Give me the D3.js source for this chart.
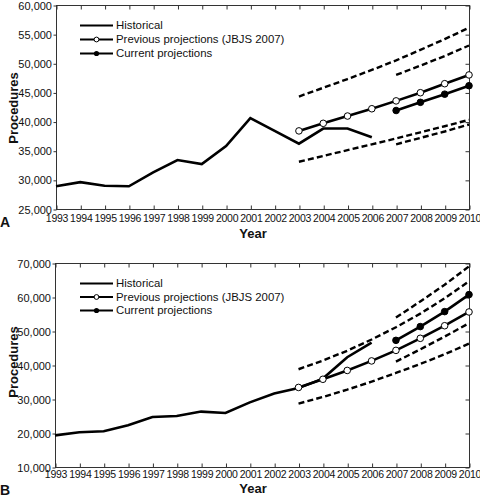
<!DOCTYPE html>
<html><head><meta charset="utf-8">
<script src="https://cdn.jsdelivr.net/npm/d3@7/dist/d3.min.js"></script>
<style>
body{margin:0;background:#fff}
svg{display:block}
text{font-family:"Liberation Sans",Arial,Helvetica,sans-serif;fill:#111}
</style>
</head><body>
<svg id="chart" width="480" height="497"></svg>
<script>
// ---------- data ----------
const years = [1993,1994,1995,1996,1997,1998,1999,2000,2001,2002,2003,2004,2005,2006,2007,2008,2009,2010];
const histYears = [1993,1994,1995,1996,1997,1998,1999,2000,2001,2002,2003,2004,2005,2006];
const prevYears = [2003,2004,2005,2006,2007,2008,2009,2010];
const currYears = [2007,2008,2009,2010];
const legendLabels = ["Historical", "Previous projections (JBJS 2007)", "Current projections"];

// Panel A
const histA = [28900,29600,29000,28900,31300,33400,32700,35800,40600,38400,36200,38800,38800,37300];
const prevA = [38400,39700,40950,42200,43550,44950,46500,48000];
const currA = [41900,43300,44700,46150];
const prevUpperA = [44300,45800,47300,48850,50500,52300,54150,56100];
const prevLowerA = [33100,34100,35100,36100,37100,38150,39200,40300];
const currUpperA = [48000,49600,51250,53050];
const currLowerA = [36100,37200,38300,39500];
const yTicksA = [25000,30000,35000,40000,45000,50000,55000,60000];

// Panel B
const histB = [19300,20200,20500,22300,24700,25000,26300,25900,29000,31600,33200,36000,42300,46600];
const prevB = [33400,35800,38400,41200,44300,47850,51550,55600];
const currB = [47250,51300,55700,60700];
const prevUpperB = [38750,41300,44200,47500,51100,55100,59600,64600];
const prevLowerB = [28650,30600,32750,35100,37650,40300,43150,46300];
const currUpperB = [53950,58700,63600,69000];
const currLowerB = [41000,44600,48350,52300];
const yTicksB = [10000,20000,30000,40000,50000,60000,70000];

// ---------- drawing ----------
const svg = d3.select("#chart");
const fmt = d3.format(",");
const zip = (xs, ys) => xs.map((x, i) => ({x, y: ys[i]}));

function panel(cfg) {
  const x = d3.scaleLinear().domain([1993, 2010]).range([cfg.left, cfg.right]);
  const y = d3.scaleLinear().domain(cfg.yDomain).range([cfg.bottom, cfg.top]);
  const g = svg.append("g");

  // frame
  g.append("rect")
    .attr("x", cfg.left + 0.5).attr("y", cfg.top + 0.5)
    .attr("width", cfg.right - cfg.left).attr("height", cfg.bottom - cfg.top)
    .attr("fill", "none").attr("stroke", "#333").attr("stroke-width", 1);

  // axes
  const xb = g.append("g").attr("transform", `translate(0.5,${cfg.bottom + 0.5})`)
    .call(d3.axisBottom(x).tickValues(years).tickFormat(d3.format("d")).tickSize(-4).tickPadding(cfg.xPad));
  const xt = g.append("g").attr("transform", `translate(0.5,${cfg.top + 0.5})`)
    .call(d3.axisTop(x).tickValues(years).tickFormat("").tickSize(-4));
  const yl = g.append("g").attr("transform", `translate(${cfg.left + 0.5},0.5)`)
    .call(d3.axisLeft(y).tickValues(cfg.yTicks).tickFormat(fmt).tickSize(3).tickPadding(1.5));
  const yr = g.append("g").attr("transform", `translate(${cfg.right + 0.5},0.5)`)
    .call(d3.axisRight(y).tickValues(cfg.yTicks).tickFormat("").tickSize(-4));
  [xb, xt, yl, yr].forEach(a => {
    a.select(".domain").remove();
    a.selectAll("line").attr("stroke", "#333");
    a.selectAll("text").attr("font-size", 11).attr("fill", "#1a1a1a")
      .attr("font-family", '"Liberation Sans",Arial,sans-serif');
  });
  xb.selectAll("text").attr("font-size", 10.5).attr("letter-spacing", "-0.25px");

  const line = d3.line().x(d => x(d.x)).y(d => y(d.y));
  const solid = (data) => g.append("path").datum(data).attr("d", line)
    .attr("fill", "none").attr("stroke", "#000").attr("stroke-width", 2.6)
    .attr("stroke-linejoin", "miter");
  const dashed = (data) => g.append("path").datum(data).attr("d", line)
    .attr("fill", "none").attr("stroke", "#000").attr("stroke-width", 2.4)
    .attr("stroke-dasharray", "6,3.2");

  dashed(zip(prevYears, cfg.prevUpper));
  dashed(zip(prevYears, cfg.prevLower));
  dashed(zip(currYears, cfg.currUpper));
  dashed(zip(currYears, cfg.currLower));
  solid(zip(histYears, cfg.hist));
  solid(zip(prevYears, cfg.prev));
  solid(zip(currYears, cfg.curr));

  g.selectAll(".po").data(zip(prevYears, cfg.prev)).enter().append("circle")
    .attr("cx", d => x(d.x)).attr("cy", d => y(d.y)).attr("r", 3.3)
    .attr("fill", "#fff").attr("stroke", "#000").attr("stroke-width", 1);
  g.selectAll(".cf").data(zip(currYears, cfg.curr)).enter().append("circle")
    .attr("cx", d => x(d.x)).attr("cy", d => y(d.y)).attr("r", 3.3)
    .attr("fill", "#000").attr("stroke", "#000").attr("stroke-width", 1);

  // legend
  const lg = g.append("g");
  legendLabels.forEach((lab, i) => {
    const ly = cfg.legendY + i * cfg.legendStep;
    lg.append("line").attr("x1", 80).attr("x2", 113).attr("y1", ly).attr("y2", ly)
      .attr("stroke", "#000").attr("stroke-width", 2);
    if (i === 1) lg.append("circle").attr("cx", 96.5).attr("cy", ly).attr("r", 2.4)
      .attr("fill", "#fff").attr("stroke", "#000").attr("stroke-width", 1);
    if (i === 2) lg.append("circle").attr("cx", 96.5).attr("cy", ly).attr("r", 2.6)
      .attr("fill", "#000");
    lg.append("text").attr("x", 116).attr("y", ly).attr("dy", "0.35em")
      .attr("font-size", 11.4).text(lab);
  });

  // titles
  g.append("text").attr("transform", `translate(${cfg.yTitleX},${cfg.yTitleY}) rotate(-90)`)
    .attr("text-anchor", "middle").attr("dy", "0.35em")
    .attr("font-size", 13).attr("font-weight", "bold").text("Procedures");
  g.append("text").attr("x", 253).attr("y", cfg.yearY).attr("text-anchor", "middle")
    .attr("dy", "0.35em").attr("font-size", 13).attr("font-weight", "bold").text("Year");
  g.append("text").attr("x", 0).attr("y", cfg.letterY).attr("dy", "0.35em")
    .attr("font-size", 14).attr("font-weight", "bold").text(cfg.letter);
}

panel({left: 56, right: 469, top: 5, bottom: 209, yDomain: [25000, 60000], yTicks: yTicksA,
  hist: histA, prev: prevA, curr: currA, prevUpper: prevUpperA, prevLower: prevLowerA,
  currUpper: currUpperA, currLower: currLowerA, xPad: 5,
  legendY: 25.5, legendStep: 14, yTitleX: 13, yTitleY: 108, yearY: 233, letterY: 222, letter: "A"});

panel({left: 55, right: 469, top: 263, bottom: 467, yDomain: [10000, 70000], yTicks: yTicksB,
  hist: histB, prev: prevB, curr: currB, prevUpper: prevUpperB, prevLower: prevLowerB,
  currUpper: currUpperB, currLower: currLowerB, xPad: 3.5,
  legendY: 283.5, legendStep: 13.5, yTitleX: 13, yTitleY: 362, yearY: 488.5, letterY: 490, letter: "B"});
</script>
</body></html>
